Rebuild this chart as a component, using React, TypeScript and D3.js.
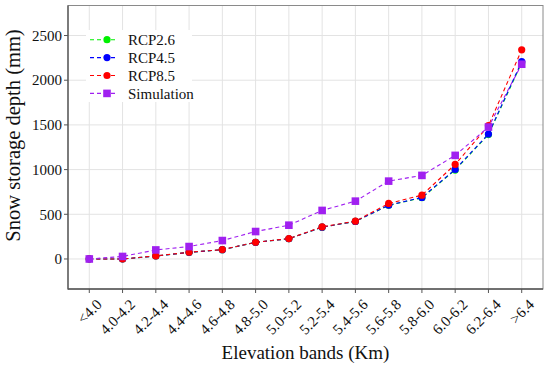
import React from "react";
import * as d3 from "d3";

const categories = ["<4.0", "4.0-4.2", "4.2-4.4", "4.4-4.6", "4.6-4.8", "4.8-5.0", "5.0-5.2", "5.2-5.4", "5.4-5.6", "5.6-5.8", "5.8-6.0", "6.0-6.2", "6.2-6.4", ">6.4"];
const rcp26 = [0, 0, 33, 74, 104, 186, 226, 356, 420, 600, 685, 995, 1392, 2195];
const rcp45 = [0, 0, 33, 74, 104, 186, 226, 356, 420, 602, 688, 1002, 1398, 2209];
const rcp85 = [0, 0, 34, 75, 105, 187, 228, 359, 423, 621, 714, 1058, 1491, 2340];
const simulation = [0, 28, 101, 139, 206, 307, 378, 543, 647, 871, 935, 1159, 1476, 2179];
const yTicks = [0, 500, 1000, 1500, 2000, 2500];

const seriesNames = ["RCP2.6", "RCP4.5", "RCP8.5", "Simulation"];
const seriesColors = ["#00F000", "#0000FF", "#FF0000", "#A020F0"];
const seriesShapes = ["circle", "circle", "circle", "square"];
const seriesValues = [rcp26, rcp45, rcp85, simulation];

const W = 550, H = 369;
const left = 68, right = 543, top = 5.5, bottom = 289;
const font = "'Liberation Serif', 'Times New Roman', serif";

export default function App() {
  const x = d3.scalePoint<string>().domain(categories).range([left, right]).padding(0.64);
  const y = d3.scaleLinear().domain([-336, 2836]).range([bottom, top]);
  const line = d3.line<number>().x((_, i) => x(categories[i])!).y((v) => y(v));

  const marker = (shape: string, cx: number, cy: number, color: string, key: string) =>
    shape === "circle" ? (
      <circle key={key} cx={cx} cy={cy} r={3.6} fill={color} />
    ) : (
      <rect key={key} x={cx - 3.8} y={cy - 3.8} width={7.6} height={7.6} fill={color} />
    );

  return (
    <svg width={W} height={H} style={{ display: "block", position: "absolute", left: 0, top: 0 }}>
      <rect x={0} y={0} width={W} height={H} fill="#fff" />
      {/* grid */}
      {yTicks.map((t) => (
        <line key={"gy" + t} x1={left} x2={right} y1={y(t)} y2={y(t)} stroke="#e3e3e3" strokeWidth={1} />
      ))}
      {categories.map((c) => (
        <line key={"gx" + c} x1={x(c)} x2={x(c)} y1={top} y2={bottom} stroke="#e3e3e3" strokeWidth={1} />
      ))}
      {/* border */}
      <rect x={left} y={top} width={right - left} height={bottom - top} fill="none" stroke="#8a8a8a" strokeWidth={1} />
      <line x1={left} x2={left} y1={top} y2={bottom + 0.5} stroke="#555" strokeWidth={1.3} />
      <line x1={left} x2={right} y1={bottom} y2={bottom} stroke="#555" strokeWidth={1.3} />
      {/* ticks */}
      {yTicks.map((t) => (
        <g key={"ty" + t}>
          <line x1={left - 4} x2={left} y1={y(t)} y2={y(t)} stroke="#555" />
          <text x={left - 6} y={y(t)} dy="0.35em" textAnchor="end" fontFamily={font} fontSize={15} fill="#111">
            {t}
          </text>
        </g>
      ))}
      {categories.map((c) => (
        <g key={"tx" + c}>
          <line x1={x(c)} x2={x(c)} y1={bottom} y2={bottom + 4} stroke="#555" />
          <text
            transform={`translate(${x(c)! + 6},${bottom + 9}) rotate(-45)`}
            textAnchor="end"
            dy="0.7em"
            fontFamily={font}
            fontSize={15}
            fill="#111"
          >
            {c}
          </text>
        </g>
      ))}
      {/* series */}
      {seriesValues.map((vals, si) => (
        <g key={"s" + si}>
          <path d={line(vals)!} fill="none" stroke={seriesColors[si]} strokeWidth={1.1} strokeDasharray="4,3" />
          {vals.map((v, i) => marker(seriesShapes[si], x(categories[i])!, y(v), seriesColors[si], "m" + si + "-" + i))}
        </g>
      ))}
      {/* legend */}
      <rect x={86} y={30} width={106} height={72} fill="#fff" />
      {seriesNames.map((n, i) => {
        const ly = 39.7 + i * 17.9;
        return (
          <g key={"lg" + n}>
            <line x1={90} x2={117} y1={ly} y2={ly} stroke={seriesColors[i]} strokeWidth={1.1} strokeDasharray="4,3" />
            {marker(seriesShapes[i], 107, ly, seriesColors[i], "lm" + i)}
            <text x={128} y={ly} dy="0.35em" fontFamily={font} fontSize={15} fill="#111">
              {n}
            </text>
          </g>
        );
      })}
      {/* axis titles */}
      <text x={(left + right) / 2} y={359} textAnchor="middle" fontFamily={font} fontSize={19} fill="#111">
        Elevation bands (Km)
      </text>
      <text
        transform={`translate(13,135.5) rotate(-90)`}
        textAnchor="middle"
        dy="0.35em"
        fontFamily={font}
        fontSize={20.5}
        fill="#111"
      >
        Snow storage depth (mm)
      </text>
    </svg>
  );
}
